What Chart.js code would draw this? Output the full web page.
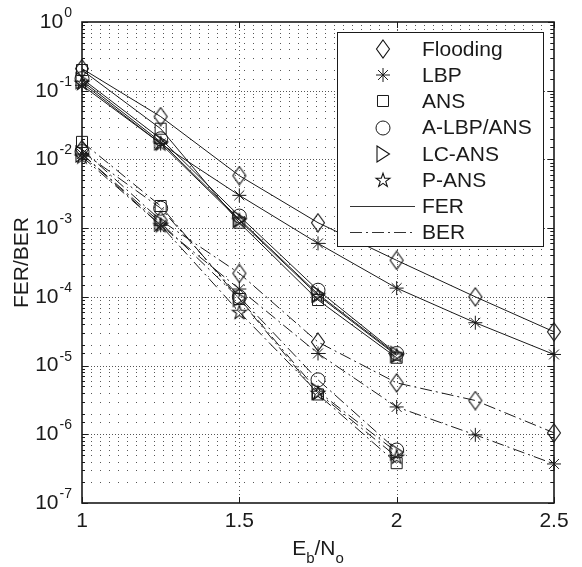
<!DOCTYPE html>
<html>
<head>
<meta charset="utf-8">
<title>FER/BER</title>
<script src="https://cdn.jsdelivr.net/npm/chart.js@4.4.1/dist/chart.umd.min.js"></script>
<style>
  html, body { margin: 0; padding: 0; background: #fff; }
  #wrap { width: 582px; height: 567px; }
</style>
</head>
<body>
<div id="wrap"><canvas id="errChart" width="582" height="567"></canvas></div>
<script>
// Eb/No points (dB)
const ebNo = [1, 1.25, 1.5, 1.75, 2, 2.25, 2.5];

// frame error rate per schedule
const ferFlooding = [0.21, 0.042, 5.8e-3, 1.2e-3, 3.4e-4, 1.0e-4, 3.1e-5];
const ferLbp      = [0.12, 0.017, 3.0e-3, 6.0e-4, 1.34e-4, 4.2e-5, 1.45e-5];
const ferAns      = [0.2, 0.028, 1.2e-3, 9.0e-5, 1.3e-5];
const ferAlbpAns  = [0.15, 0.02, 1.5e-3, 1.25e-4, 1.5e-5];
const ferLcAns    = [0.14, 0.018, 1.35e-3, 1.1e-4, 1.45e-5];
const ferPAns     = [0.13, 0.017, 1.3e-3, 1.05e-4, 1.4e-5];

// bit error rate per schedule
const berFlooding = [0.014, 1.3e-3, 2.2e-4, 2.2e-5, 5.6e-6, 3.1e-6, 1.05e-6];
const berLbp      = [0.012, 1.1e-3, 1.3e-4, 1.5e-5, 2.5e-6, 9.8e-7, 3.7e-7];
const berAns      = [0.018, 2.1e-3, 9.3e-5, 3.8e-6, 3.8e-7];
const berAlbpAns  = [0.013, 1.95e-3, 1.0e-4, 6.2e-6, 5.9e-7];
const berLcAns    = [0.012, 1.2e-3, 9.5e-5, 4.2e-6, 5.5e-7];
const berPAns     = [0.011, 1.1e-3, 6.0e-5, 4.0e-6, 4.7e-7];

const schemeNames = ["Flooding", "LBP", "ANS", "A-LBP/ANS", "LC-ANS", "P-ANS"];
const xTickValues = [1, 1.5, 2, 2.5];
const yDecades = [0, -1, -2, -3, -4, -5, -6, -7];

const FONT = "'Liberation Sans', Arial, sans-serif";
const INK = "#1a1a1a";

// small canvases for marker shapes Chart.js doesn't have
function makeMarker(w, h, draw) {
  const c = document.createElement("canvas");
  c.width = w;
  c.height = h;
  const g = c.getContext("2d");
  g.strokeStyle = "#111";
  g.lineWidth = 1.1;
  g.beginPath();
  draw(g, w, h);
  g.closePath();
  g.stroke();
  return c;
}

const diamondMark = makeMarker(16, 20, (g, w, h) => {
  g.moveTo(w / 2, 1);
  g.lineTo(w - 1.5, h / 2);
  g.lineTo(w / 2, h - 1);
  g.lineTo(1.5, h / 2);
});

const triangleMark = makeMarker(16, 20, (g, w, h) => {
  g.moveTo(2, 2);
  g.lineTo(w - 1.5, h / 2);
  g.lineTo(2, h - 2);
});

const pentagramMark = makeMarker(18, 18, (g, w, h) => {
  const cx = w / 2, cy = h / 2 + 0.5, ro = 7.3, ri = 2.9;
  for (let i = 0; i < 10; i++) {
    const r = i % 2 === 0 ? ro : ri;
    const a = -Math.PI / 2 + i * Math.PI / 5;
    const px = cx + r * Math.cos(a), py = cy + r * Math.sin(a);
    if (i === 0) g.moveTo(px, py); else g.lineTo(px, py);
  }
});

const markers = [
  { pointStyle: diamondMark, radius: 8 },
  { pointStyle: "star", radius: 7 },
  { pointStyle: "rect", radius: 7.8 },
  { pointStyle: "circle", radius: 7 },
  { pointStyle: triangleMark, radius: 8 },
  { pointStyle: pentagramMark, radius: 8 },
];

const ferSeries = [ferFlooding, ferLbp, ferAns, ferAlbpAns, ferLcAns, ferPAns];
const berSeries = [berFlooding, berLbp, berAns, berAlbpAns, berLcAns, berPAns];
const BER_DASH = [12, 4, 2, 4];

function toPoints(vals) {
  return vals.map((v, i) => ({ x: ebNo[i], y: v }));
}

const datasets = [];
schemeNames.forEach((name, i) => {
  const m = markers[i];
  [["FER", ferSeries[i], []], ["BER", berSeries[i], BER_DASH]].forEach(([kind, vals, dash]) => {
    datasets.push({
      label: name + " " + kind,
      data: toPoints(vals),
      borderColor: INK,
      borderWidth: 1,
      borderDash: dash,
      tension: 0,
      fill: false,
      clip: false,
      pointStyle: m.pointStyle,
      pointRadius: m.radius,
      pointBorderWidth: 1,
      pointBorderColor: INK,
      pointBackgroundColor: "rgba(0,0,0,0)",
    });
  });
});

const isDecade = (v) => Math.abs(Math.log10(v) - Math.round(Math.log10(v))) < 1e-9;

// dotted grid under the curves
const gridPlugin = {
  id: "matGrid",
  beforeDatasetsDraw(chart) {
    const { ctx, chartArea: a, scales } = chart;
    ctx.save();
    ctx.strokeStyle = "#555";
    ctx.lineWidth = 1;
    scales.y.ticks.forEach((t) => {
      const py = Math.round(scales.y.getPixelForValue(t.value)) + 0.5;
      if (py <= a.top + 1 || py >= a.bottom - 1) return;
      ctx.setLineDash(isDecade(t.value) ? [1, 2] : [1, 8]);
      ctx.beginPath();
      ctx.moveTo(a.left, py);
      ctx.lineTo(a.right, py);
      ctx.stroke();
    });
    ctx.setLineDash([1, 3]);
    xTickValues.forEach((v) => {
      const px = Math.round(scales.x.getPixelForValue(v)) + 0.5;
      if (px <= a.left + 1 || px >= a.right - 1) return;
      ctx.beginPath();
      ctx.moveTo(px, a.top);
      ctx.lineTo(px, a.bottom);
      ctx.stroke();
    });
    ctx.restore();
  },
};

// axes box, inward ticks, labels and legend on top
const framePlugin = {
  id: "matFrame",
  afterDatasetsDraw(chart) {
    const { ctx, chartArea: a, scales } = chart;
    ctx.save();
    ctx.strokeStyle = INK;
    ctx.lineWidth = 1;
    ctx.setLineDash([]);
    ctx.beginPath();
    scales.y.ticks.forEach((t) => {
      const py = Math.round(scales.y.getPixelForValue(t.value)) + 0.5;
      const len = isDecade(t.value) ? 6 : 3;
      ctx.moveTo(a.left, py); ctx.lineTo(a.left + len, py);
      ctx.moveTo(a.right, py); ctx.lineTo(a.right - len, py);
    });
    xTickValues.forEach((v) => {
      const px = Math.round(scales.x.getPixelForValue(v)) + 0.5;
      ctx.moveTo(px, a.bottom); ctx.lineTo(px, a.bottom - 6);
      ctx.moveTo(px, a.top); ctx.lineTo(px, a.top + 6);
    });
    ctx.stroke();

    ctx.lineWidth = 1.6;
    ctx.strokeRect(Math.round(a.left), Math.round(a.top),
      Math.round(a.right - a.left), Math.round(a.bottom - a.top));

    // tick labels
    ctx.fillStyle = INK;
    ctx.textBaseline = "middle";
    ctx.textAlign = "center";
    ctx.font = "21px " + FONT;
    xTickValues.forEach((v) => {
      ctx.fillText(String(v), scales.x.getPixelForValue(v), a.bottom + 18);
    });

    yDecades.forEach((k) => {
      const py = scales.y.getPixelForValue(Math.pow(10, k));
      const expTxt = String(k);
      ctx.font = "14px " + FONT;
      const expW = ctx.measureText(expTxt).width;
      const right = a.left - 10;
      ctx.textAlign = "left";
      ctx.textBaseline = "alphabetic";
      ctx.fillText(expTxt, right - expW, py - 5);
      ctx.font = "21px " + FONT;
      ctx.textAlign = "right";
      ctx.textBaseline = "middle";
      ctx.fillText("10", right - expW - 1, py);
    });

    // axis titles
    ctx.save();
    ctx.translate(22, (a.top + a.bottom) / 2);
    ctx.rotate(-Math.PI / 2);
    ctx.textAlign = "center";
    ctx.textBaseline = "middle";
    ctx.font = "21px " + FONT;
    ctx.fillText("FER/BER", 0, 0);
    ctx.restore();

    const parts = [["E", 0], ["b", 1], ["/N", 0], ["o", 1]];
    let total = 0;
    parts.forEach(([s, sub]) => {
      ctx.font = (sub ? "15px " : "21px ") + FONT;
      total += ctx.measureText(s).width;
    });
    let cx = (a.left + a.right) / 2 - total / 2;
    const base = 555;
    ctx.textAlign = "left";
    ctx.textBaseline = "alphabetic";
    parts.forEach(([s, sub]) => {
      ctx.font = (sub ? "15px " : "21px ") + FONT;
      ctx.fillText(s, cx, sub ? base + 8 : base);
      cx += ctx.measureText(s).width;
    });

    // legend box
    const lx = 337, ly = 32, lw = 206, lh = 214;
    ctx.fillStyle = "#fff";
    ctx.fillRect(lx, ly, lw, lh);
    ctx.lineWidth = 1;
    ctx.strokeStyle = INK;
    ctx.strokeRect(lx + 0.5, ly + 0.5, lw, lh);

    const rowY = (i) => 49 + i * 26.2;
    ctx.font = "21px " + FONT;
    ctx.textAlign = "left";
    ctx.textBaseline = "middle";
    schemeNames.forEach((name, i) => {
      ctx.strokeStyle = INK;
      ctx.fillStyle = "rgba(0,0,0,0)";
      Chart.helpers.drawPoint(ctx, {
        pointStyle: markers[i].pointStyle,
        radius: markers[i].radius,
        borderWidth: 1,
        rotation: 0,
      }, 383, Math.round(rowY(i)));
      ctx.fillStyle = INK;
      ctx.fillText(name, 422, rowY(i) + 1);
    });
    [["FER", []], ["BER", BER_DASH]].forEach(([txt, dash], j) => {
      const y = Math.round(rowY(6 + j)) + 0.5;
      ctx.setLineDash(dash);
      ctx.strokeStyle = "#333";
      ctx.beginPath();
      ctx.moveTo(350, y);
      ctx.lineTo(415, y);
      ctx.stroke();
      ctx.setLineDash([]);
      ctx.fillStyle = INK;
      ctx.fillText(txt, 422, y + 1);
    });
    ctx.restore();
  },
};

new Chart(document.getElementById("errChart"), {
  type: "line",
  data: { datasets },
  options: {
    responsive: false,
    animation: false,
    devicePixelRatio: 1,
    layout: { padding: { top: 22, right: 28, left: 0, bottom: 0 } },
    plugins: { legend: { display: false }, tooltip: { enabled: false } },
    scales: {
      x: {
        type: "linear",
        min: 1,
        max: 2.5,
        grid: { display: false, drawTicks: false },
        border: { display: false },
        ticks: { display: false, stepSize: 0.5 },
        afterFit: (s) => { s.height = 64; },
      },
      y: {
        type: "logarithmic",
        min: 1e-7,
        max: 1,
        grid: { display: false, drawTicks: false },
        border: { display: false },
        ticks: { display: false },
        afterFit: (s) => { s.width = 82; },
      },
    },
  },
  plugins: [gridPlugin, framePlugin],
});
</script>
</body>
</html>
